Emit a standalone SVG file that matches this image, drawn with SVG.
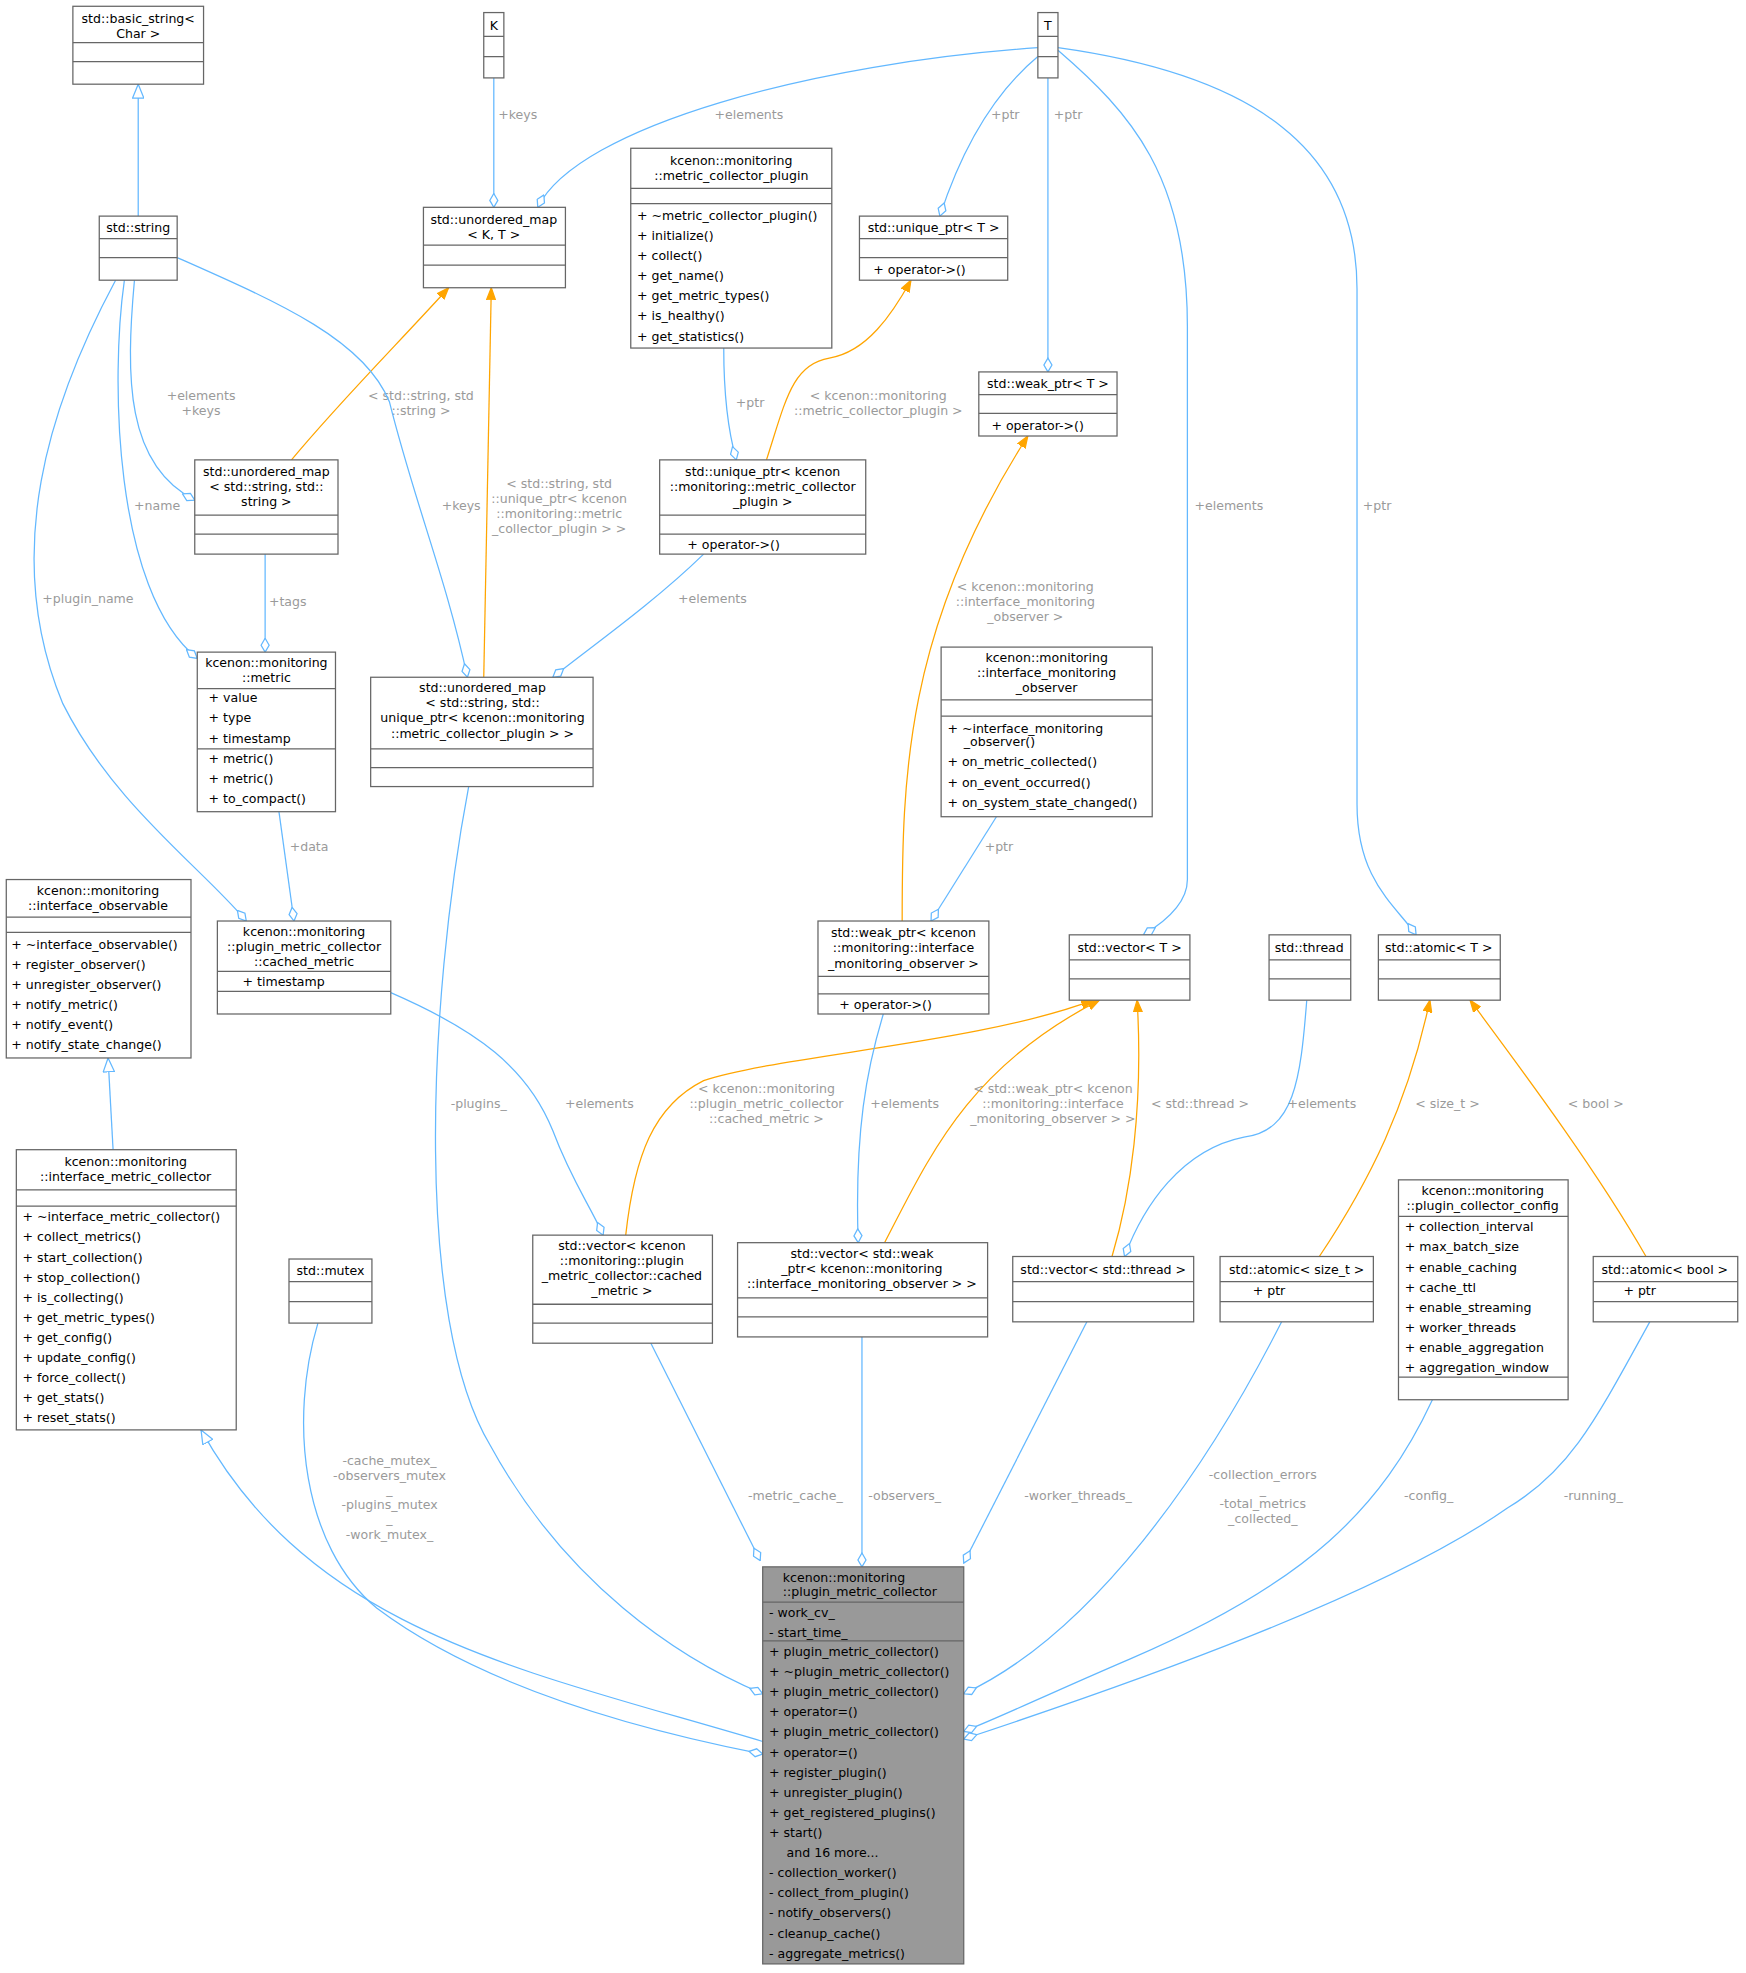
<svg xmlns="http://www.w3.org/2000/svg" width="1746" height="1973" viewBox="0 0 1746 1973">
<style>
.b{fill:#fff;stroke:#666;stroke-width:1}
.g{fill:#999;stroke:#666;stroke-width:1}
.s{stroke:#666;stroke-width:1}
text{font-family:"DejaVu Sans","Liberation Sans",sans-serif;font-size:10px;fill:#000}
.t{text-anchor:middle}
.l{fill:#9a9a9a;text-anchor:middle}
.e{fill:none;stroke:#63b8ff;stroke-width:1}
.o{fill:none;stroke:#ffa500;stroke-width:1}
</style>
<defs>
<marker id="dm" viewBox="0 0 12 8" refX="11.5" refY="4" markerWidth="12" markerHeight="8" orient="auto" markerUnits="userSpaceOnUse"><path d="M0.5,4 L6,0.8 L11.5,4 L6,7.2 Z" fill="#fff" stroke="#63b8ff"/></marker>
<marker id="ar" viewBox="0 0 10 8" refX="9.5" refY="4" markerWidth="10" markerHeight="8" orient="auto" markerUnits="userSpaceOnUse"><path d="M0,0.5 L9.5,4 L0,7.5 Z" fill="#ffa500" stroke="#ffa500"/></marker>
<marker id="tr" viewBox="0 0 12 10" refX="11.5" refY="5" markerWidth="12" markerHeight="10" orient="auto" markerUnits="userSpaceOnUse"><path d="M0.5,0.5 L11.5,5 L0.5,9.5 Z" fill="#fff" stroke="#63b8ff"/></marker>
</defs>
<rect width="1746" height="1973" fill="#fff"/>
<g transform="scale(1.2565)">
<g id="edges">
<path class="e" d="M110,172 L110,67" marker-end="url(#tr)"/>
<path class="e" d="M393,62 L393,165" marker-end="url(#dm)"/><text class="l" x="412" y="95">+keys</text>
<path class="e" d="M826,38 C650,50 460,100 428,165" marker-end="url(#dm)"/><text class="l" x="596" y="95">+elements</text>
<path class="e" d="M826,45 C790,75 765,120 748,172" marker-end="url(#dm)"/><text class="l" x="800" y="95">+ptr</text>
<path class="e" d="M834,62 L834,296" marker-end="url(#dm)"/><text class="l" x="850" y="95">+ptr</text>
<path class="e" d="M842,40 C900,90 945,140 945,260 L945,700 C945,720 925,735 910,744" marker-end="url(#dm)"/><text class="l" x="978" y="406">+elements</text>
<path class="e" d="M842,38 C1000,60 1080,120 1080,230 L1080,640 C1080,700 1110,720 1127,744" marker-end="url(#dm)"/><text class="l" x="1096" y="406">+ptr</text>
<path class="o" d="M232,366 C270,320 320,270 357,229" marker-end="url(#ar)"/><text class="l" x="335" y="318">&lt; std::string, std</text><text class="l" x="335" y="330">::string &gt;</text>
<path class="o" d="M385,539 L391,229" marker-end="url(#ar)"/><text class="l" x="445" y="388">&lt; std::string, std</text><text class="l" x="445" y="400">::unique_ptr&lt; kcenon</text><text class="l" x="445" y="412">::monitoring::metric</text><text class="l" x="445" y="424">_collector_plugin &gt; &gt;</text>
<path class="o" d="M610,366 C625,320 630,290 660,285 C690,280 710,250 725,223" marker-end="url(#ar)"/><text class="l" x="699" y="318">&lt; kcenon::monitoring</text><text class="l" x="699" y="330">::metric_collector_plugin &gt;</text>
<path class="e" d="M576,277 C576,320 580,345 586,366" marker-end="url(#dm)"/><text class="l" x="597" y="324">+ptr</text>
<path class="e" d="M107,223 C100,300 100,370 155,398" marker-end="url(#dm)"/><text class="l" x="160" y="318">+elements</text><text class="l" x="160" y="330">+keys</text>
<path class="e" d="M99,223 C88,300 90,470 157,524" marker-end="url(#dm)"/><text class="l" x="125" y="406">+name</text>
<path class="e" d="M92,223 C40,320 0,440 50,560 C90,640 160,690 196,733" marker-end="url(#dm)"/><text class="l" x="70" y="480">+plugin_name</text>
<path class="e" d="M141,205 C220,240 290,270 310,320 C330,400 355,460 372,539" marker-end="url(#dm)"/><text class="l" x="367" y="406">+keys</text>
<path class="e" d="M211,441 L211,519" marker-end="url(#dm)"/><text class="l" x="229" y="482">+tags</text>
<path class="e" d="M222,646 L234,733" marker-end="url(#dm)"/><text class="l" x="246" y="677">+data</text>
<path class="e" d="M560,441 C520,480 470,515 440,539" marker-end="url(#dm)"/><text class="l" x="567" y="480">+elements</text>
<path class="o" d="M718,733 C718,620 720,500 818,347" marker-end="url(#ar)"/><text class="l" x="816" y="470">&lt; kcenon::monitoring</text><text class="l" x="816" y="482">::interface_monitoring</text><text class="l" x="816" y="494">_observer &gt;</text>
<path class="e" d="M793,650 L741,733" marker-end="url(#dm)"/><text class="l" x="795" y="677">+ptr</text>
<path class="e" d="M90,915 L86,842" marker-end="url(#tr)"/>
<path class="e" d="M607,1386 C420,1330 250,1300 160,1138" marker-end="url(#tr)"/>
<path class="e" d="M311,790 C380,820 420,850 440,900 C455,940 470,960 480,983" marker-end="url(#dm)"/><text class="l" x="477" y="882">+elements</text>
<path class="o" d="M498,983 C505,920 520,880 560,860 C620,840 780,830 870,796" marker-end="url(#ar)"/><text class="l" x="610" y="870">&lt; kcenon::monitoring</text><text class="l" x="610" y="882">::plugin_metric_collector</text><text class="l" x="610" y="894">::cached_metric &gt;</text>
<path class="e" d="M703,807 C690,850 680,900 683,989" marker-end="url(#dm)"/><text class="l" x="720" y="882">+elements</text>
<path class="o" d="M704,989 C740,920 770,850 875,796" marker-end="url(#ar)"/><text class="l" x="838" y="870">&lt; std::weak_ptr&lt; kcenon</text><text class="l" x="838" y="882">::monitoring::interface</text><text class="l" x="838" y="894">_monitoring_observer &gt; &gt;</text>
<path class="o" d="M885,1000 C900,950 910,880 905,796" marker-end="url(#ar)"/><text class="l" x="955" y="882">&lt; std::thread &gt;</text>
<path class="e" d="M1040,796 C1035,860 1030,900 990,905 C940,915 910,960 895,1000" marker-end="url(#dm)"/><text class="l" x="1052" y="882">+elements</text>
<path class="o" d="M1050,1000 C1090,940 1120,880 1138,796" marker-end="url(#ar)"/><text class="l" x="1152" y="882">&lt; size_t &gt;</text>
<path class="o" d="M1310,1000 C1270,930 1210,850 1170,796" marker-end="url(#ar)"/><text class="l" x="1270" y="882">&lt; bool &gt;</text>
<path class="e" d="M373,626 C340,800 330,1050 390,1150 C450,1260 540,1320 607,1348" marker-end="url(#dm)"/><text class="l" x="381" y="882">-plugins_</text>
<path class="e" d="M253,1053 C230,1130 240,1230 300,1280 C380,1340 500,1375 607,1396" marker-end="url(#dm)"/><text class="l" x="310" y="1166">-cache_mutex_</text><text class="l" x="310" y="1178">-observers_mutex</text><text class="l" x="310" y="1189">_</text><text class="l" x="310" y="1201">-plugins_mutex</text><text class="l" x="310" y="1212">_</text><text class="l" x="310" y="1225">-work_mutex_</text>
<path class="e" d="M518,1069 L605,1242" marker-end="url(#dm)"/><text class="l" x="633" y="1194">-metric_cache_</text>
<path class="e" d="M686,1064 L686,1247" marker-end="url(#dm)"/><text class="l" x="720" y="1194">-observers_</text>
<path class="e" d="M865,1052 L767,1244" marker-end="url(#dm)"/><text class="l" x="858" y="1194">-worker_threads_</text>
<path class="e" d="M1020,1052 C960,1170 870,1300 767,1348" marker-end="url(#dm)"/><text class="l" x="1005" y="1177">-collection_errors</text><text class="l" x="1005" y="1189">_</text><text class="l" x="1005" y="1200">-total_metrics</text><text class="l" x="1005" y="1212">_collected_</text>
<path class="e" d="M1140,1114 C1100,1200 1040,1260 900,1320 C830,1350 800,1365 767,1378" marker-end="url(#dm)"/><text class="l" x="1137" y="1194">-config_</text>
<path class="e" d="M1313,1052 C1270,1130 1250,1170 1200,1200 C1100,1270 900,1340 767,1384" marker-end="url(#dm)"/><text class="l" x="1268" y="1194">-running_</text>
</g>

<g id="basic_string"><rect class="b" x="58" y="5" width="104" height="62"/><path class="s" d="M58,34H162M58,49H162"/><text class="t" x="110" y="18">std::basic_string&lt;</text><text class="t" x="110" y="30">Char &gt;</text></g>
<g id="string"><rect class="b" x="79" y="172" width="62" height="51"/><path class="s" d="M79,190H141M79,205H141"/><text class="t" x="110" y="185">std::string</text></g>
<g id="K"><rect class="b" x="385" y="10" width="16" height="52"/><path class="s" d="M385,29H401M385,45H401"/><text class="t" x="393" y="24">K</text></g>
<g id="T"><rect class="b" x="826" y="10" width="16" height="52"/><path class="s" d="M826,29H842M826,45H842"/><text class="t" x="834" y="24">T</text></g>
<g id="umapKT"><rect class="b" x="337" y="165" width="113" height="64"/><path class="s" d="M337,195H450M337,211H450"/><text class="t" x="393" y="178">std::unordered_map</text><text class="t" x="393" y="190">&lt; K, T &gt;</text></g>
<g id="mcp"><rect class="b" x="502" y="118" width="160" height="159"/><path class="s" d="M502,150H662M502,162H662"/><text class="t" x="582" y="131">kcenon::monitoring</text><text class="t" x="582" y="143">::metric_collector_plugin</text>
<text x="507" y="175">+  ~metric_collector_plugin()</text><text x="507" y="191">+  initialize()</text><text x="507" y="207">+  collect()</text><text x="507" y="223">+  get_name()</text><text x="507" y="239">+  get_metric_types()</text><text x="507" y="255">+  is_healthy()</text><text x="507" y="271">+  get_statistics()</text></g>
<g id="uptrT"><rect class="b" x="684" y="172" width="118" height="51"/><path class="s" d="M684,190H802M684,205H802"/><text class="t" x="743" y="185">std::unique_ptr&lt; T &gt;</text><text x="695" y="218">+    operator-&gt;()</text></g>
<g id="wptrT"><rect class="b" x="779" y="296" width="110" height="51"/><path class="s" d="M779,314H889M779,329H889"/><text class="t" x="834" y="309">std::weak_ptr&lt; T &gt;</text><text x="789" y="342">+   operator-&gt;()</text></g>
<g id="umapSS"><rect class="b" x="155" y="366" width="114" height="75"/><path class="s" d="M155,410H269M155,425H269"/><text class="t" x="212" y="379">std::unordered_map</text><text class="t" x="212" y="391">&lt; std::string, std::</text><text class="t" x="212" y="403">string &gt;</text></g>
<g id="uptrP"><rect class="b" x="525" y="366" width="164" height="75"/><path class="s" d="M525,410H689M525,425H689"/><text class="t" x="607" y="379">std::unique_ptr&lt; kcenon</text><text class="t" x="607" y="391">::monitoring::metric_collector</text><text class="t" x="607" y="403">_plugin &gt;</text><text x="547" y="437">+       operator-&gt;()</text></g>
<g id="metric"><rect class="b" x="157" y="519" width="110" height="127"/><path class="s" d="M157,548H267M157,596H267"/><text class="t" x="212" y="531">kcenon::monitoring</text><text class="t" x="212" y="543">::metric</text>
<text x="166" y="559">+    value</text><text x="166" y="575">+    type</text><text x="166" y="591">+    timestamp</text><text x="166" y="607">+    metric()</text><text x="166" y="623">+    metric()</text><text x="166" y="639">+    to_compact()</text></g>
<g id="umapSP"><rect class="b" x="295" y="539" width="177" height="87"/><path class="s" d="M295,596H472M295,611H472"/><text class="t" x="384" y="551">std::unordered_map</text><text class="t" x="384" y="563">&lt; std::string, std::</text><text class="t" x="384" y="575">unique_ptr&lt; kcenon::monitoring</text><text class="t" x="384" y="587">::metric_collector_plugin &gt; &gt;</text></g>
<g id="imo"><rect class="b" x="749" y="515" width="168" height="135"/><path class="s" d="M749,557H917M749,570H917"/><text class="t" x="833" y="527">kcenon::monitoring</text><text class="t" x="833" y="539">::interface_monitoring</text><text class="t" x="833" y="551">_observer</text>
<text x="754" y="583">+  ~interface_monitoring</text><text x="767" y="594">_observer()</text><text x="754" y="610">+  on_metric_collected()</text><text x="754" y="626">+  on_event_occurred()</text><text x="754" y="642">+  on_system_state_changed()</text></g>
<g id="iobs"><rect class="b" x="5" y="700" width="147" height="142"/><path class="s" d="M5,730H152M5,742H152"/><text class="t" x="78" y="712">kcenon::monitoring</text><text class="t" x="78" y="724">::interface_observable</text>
<text x="9" y="755">+  ~interface_observable()</text><text x="9" y="771">+  register_observer()</text><text x="9" y="787">+  unregister_observer()</text><text x="9" y="803">+  notify_metric()</text><text x="9" y="819">+  notify_event()</text><text x="9" y="835">+  notify_state_change()</text></g>
<g id="cached"><rect class="b" x="173" y="733" width="138" height="74"/><path class="s" d="M173,773H311M173,789H311"/><text class="t" x="242" y="745">kcenon::monitoring</text><text class="t" x="242" y="757">::plugin_metric_collector</text><text class="t" x="242" y="769">::cached_metric</text><text x="193" y="785">+      timestamp</text></g>
<g id="wptrO"><rect class="b" x="651" y="733" width="136" height="74"/><path class="s" d="M651,777H787M651,791H787"/><text class="t" x="719" y="746">std::weak_ptr&lt; kcenon</text><text class="t" x="719" y="758">::monitoring::interface</text><text class="t" x="719" y="770">_monitoring_observer &gt;</text><text x="668" y="803">+       operator-&gt;()</text></g>
<g id="vecT"><rect class="b" x="851" y="744" width="96" height="52"/><path class="s" d="M851,764H947M851,779H947"/><text class="t" x="899" y="758">std::vector&lt; T &gt;</text></g>
<g id="thread"><rect class="b" x="1010" y="744" width="65" height="52"/><path class="s" d="M1010,764H1075M1010,779H1075"/><text class="t" x="1042" y="758">std::thread</text></g>
<g id="atomT"><rect class="b" x="1097" y="744" width="97" height="52"/><path class="s" d="M1097,764H1194M1097,779H1194"/><text class="t" x="1145" y="758">std::atomic&lt; T &gt;</text></g>
<g id="imc"><rect class="b" x="13" y="915" width="175" height="223"/><path class="s" d="M13,947H188M13,960H188"/><text class="t" x="100" y="928">kcenon::monitoring</text><text class="t" x="100" y="940">::interface_metric_collector</text>
<text x="18" y="972">+  ~interface_metric_collector()</text><text x="18" y="988">+  collect_metrics()</text><text x="18" y="1004">+  start_collection()</text><text x="18" y="1020">+  stop_collection()</text><text x="18" y="1036">+  is_collecting()</text><text x="18" y="1052">+  get_metric_types()</text><text x="18" y="1068">+  get_config()</text><text x="18" y="1084">+  update_config()</text><text x="18" y="1100">+  force_collect()</text><text x="18" y="1116">+  get_stats()</text><text x="18" y="1132">+  reset_stats()</text></g>
<g id="mutex"><rect class="b" x="230" y="1002" width="66" height="51"/><path class="s" d="M230,1020H296M230,1036H296"/><text class="t" x="263" y="1015">std::mutex</text></g>
<g id="vecC"><rect class="b" x="424" y="983" width="143" height="86"/><path class="s" d="M424,1038H567M424,1053H567"/><text class="t" x="495" y="995">std::vector&lt; kcenon</text><text class="t" x="495" y="1007">::monitoring::plugin</text><text class="t" x="495" y="1019">_metric_collector::cached</text><text class="t" x="495" y="1031">_metric &gt;</text></g>
<g id="vecW"><rect class="b" x="587" y="989" width="199" height="75"/><path class="s" d="M587,1033H786M587,1048H786"/><text class="t" x="686" y="1001">std::vector&lt; std::weak</text><text class="t" x="686" y="1013">_ptr&lt; kcenon::monitoring</text><text class="t" x="686" y="1025">::interface_monitoring_observer &gt; &gt;</text></g>
<g id="vecTh"><rect class="b" x="806" y="1000" width="144" height="52"/><path class="s" d="M806,1020H950M806,1036H950"/><text class="t" x="878" y="1014">std::vector&lt; std::thread &gt;</text></g>
<g id="atomS"><rect class="b" x="971" y="1000" width="122" height="52"/><path class="s" d="M971,1020H1093M971,1036H1093"/><text class="t" x="1032" y="1014">std::atomic&lt; size_t &gt;</text><text x="997" y="1031">+        ptr</text></g>
<g id="config"><rect class="b" x="1113" y="939" width="135" height="175"/><path class="s" d="M1113,968H1248M1113,1096H1248"/><text class="t" x="1180" y="951">kcenon::monitoring</text><text class="t" x="1180" y="963">::plugin_collector_config</text>
<text x="1118" y="980">+  collection_interval</text><text x="1118" y="996">+  max_batch_size</text><text x="1118" y="1012">+  enable_caching</text><text x="1118" y="1028">+  cache_ttl</text><text x="1118" y="1044">+  enable_streaming</text><text x="1118" y="1060">+  worker_threads</text><text x="1118" y="1076">+  enable_aggregation</text><text x="1118" y="1092">+  aggregation_window</text></g>
<g id="atomB"><rect class="b" x="1268" y="1000" width="115" height="52"/><path class="s" d="M1268,1020H1383M1268,1036H1383"/><text class="t" x="1325" y="1014">std::atomic&lt; bool &gt;</text><text x="1292" y="1031">+        ptr</text></g>
<g id="pmc"><rect class="g" x="607" y="1247" width="160" height="316"/><path class="s" d="M607,1275H767M607,1306H767"/><text x="623" y="1259">kcenon::monitoring</text><text x="623" y="1270">::plugin_metric_collector</text>
<text x="612" y="1287">-   work_cv_</text><text x="612" y="1303">-   start_time_</text>
<text x="612" y="1318">+  plugin_metric_collector()</text><text x="612" y="1334">+  ~plugin_metric_collector()</text><text x="612" y="1350">+  plugin_metric_collector()</text><text x="612" y="1366">+  operator=()</text><text x="612" y="1382">+  plugin_metric_collector()</text><text x="612" y="1398">+  operator=()</text><text x="612" y="1414">+  register_plugin()</text><text x="612" y="1430">+  unregister_plugin()</text><text x="612" y="1446">+  get_registered_plugins()</text><text x="612" y="1462">+  start()</text><text x="626" y="1478">and 16 more...</text><text x="612" y="1494">-   collection_worker()</text><text x="612" y="1510">-   collect_from_plugin()</text><text x="612" y="1526">-   notify_observers()</text><text x="612" y="1542">-   cleanup_cache()</text><text x="612" y="1558">-   aggregate_metrics()</text></g>
</g>
</svg>
